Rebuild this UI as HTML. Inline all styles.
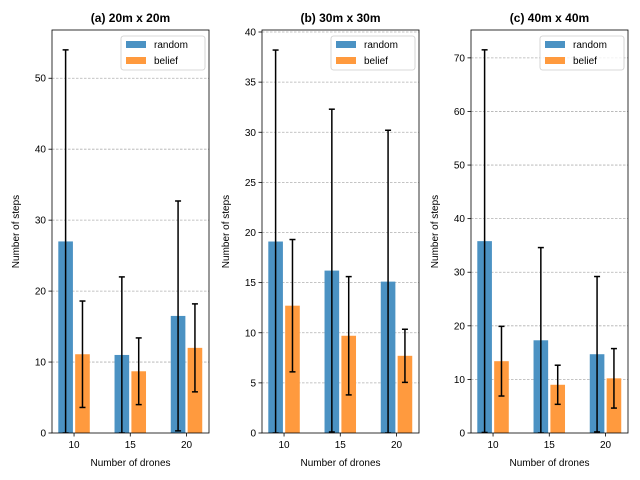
<!DOCTYPE html>
<html><head><meta charset="utf-8"><style>body{margin:0;background:#fff}svg{display:block;font-family:"Liberation Sans","DejaVu Sans",sans-serif}</style></head>
<body>
<svg id="c" width="640" height="480"></svg>
<script>
const categories=[10,15,20];
const titles=["(a) 20m x 20m","(b) 30m x 30m","(c) 40m x 40m"];
const randomVals=[[27.0,11.0,16.5],[19.1,16.2,15.1],[35.8,17.3,14.7]];
const randomErr=[[27.0,11.0,16.2],[19.1,16.1,15.1],[35.7,17.3,14.5]];
const beliefVals=[[11.1,8.7,12.0],[12.7,9.7,7.7],[13.4,9.0,10.2]];
const beliefErr=[[7.5,4.7,6.2],[6.6,5.9,2.65],[6.5,3.65,5.55]];
const yMax=[56.8,40.2,75.2];
const yTicks=[[0,10,20,30,40,50],[0,5,10,15,20,25,30,35,40],[0,10,20,30,40,50,60,70]];
const panelsX=[52,262,471];
const NS="http://www.w3.org/2000/svg";
const svg=document.getElementById('c');
function mk(tag,attrs,parent,text){const e=document.createElementNS(NS,tag);for(const k in attrs)e.setAttribute(k,attrs[k]);if(text!==undefined)e.textContent=text;(parent||svg).appendChild(e);return e;}
const TOP=30,BOT=433,W=157;
for(let p=0;p<3;p++){
  const L=panelsX[p];
  const g=mk('g',{});
  
  
  const xs=v=>L+(v-8.04)/(22.0-8.04)*W;
  const ys=v=>BOT-v/yMax[p]*(BOT-TOP);
  const cid='clip'+p;
  const cp=mk('clipPath',{id:cid},g);mk('rect',{x:L,y:TOP,width:W,height:BOT-TOP},cp);
  yTicks[p].forEach(t=>{
    const y=ys(t);
    if(t>0){const gl=mk('line',{x1:L,x2:L+W,y1:y,y2:y,stroke:'#b0b0b0','stroke-width':0.8,'stroke-dasharray':'2.5,1.5'},g);
    
    }
    mk('line',{x1:L-3.5,x2:L,y1:y,y2:y,stroke:'#000','stroke-width':0.8},g);
    const tl=mk('text',{x:L-6,y:y+3.5,'text-anchor':'end','font-size':10},g,String(t));
    
    
  });
  const bw=1.3,off=0.75;
  const series=[[randomVals[p],randomErr[p],-off,'#4b92c3','random'],[beliefVals[p],beliefErr[p],off,'#ff9a3e','belief']];
  const bg=mk('g',{'clip-path':'url(#'+cid+')'},g);
  series.forEach(s=>{
    categories.forEach((c,i)=>{
      const cx=c+s[2];
      const r=mk('rect',{x:xs(cx-bw/2),y:ys(s[0][i]),width:xs(cx+bw/2)-xs(cx-bw/2),height:ys(0)-ys(s[0][i]),fill:s[3]},bg);
      
      
      const x=xs(cx),y1=ys(s[0][i]+s[1][i]),y2=ys(s[0][i]-s[1][i]);
      const e=mk('line',{x1:x,x2:x,y1:y1,y2:y2,stroke:'#000','stroke-width':1.5},bg);
      
      
      [y1,y2].forEach(yy=>mk('line',{x1:x-3,x2:x+3,y1:yy,y2:yy,stroke:'#000','stroke-width':1.5},bg));
    });
  });
  categories.forEach(c=>{
    const x=xs(c);
    mk('line',{x1:x,x2:x,y1:BOT,y2:BOT+3.5,stroke:'#000','stroke-width':0.8},g);
    const t=mk('text',{x:x,y:BOT+15,'text-anchor':'middle','font-size':10},g,String(c));
    
    
  });
  const fr=mk('rect',{x:L,y:TOP,width:W,height:BOT-TOP,fill:'none',stroke:'#000','stroke-width':0.8},g);
  
  
  const ti=mk('text',{x:L+W/2,y:22,'text-anchor':'middle','font-size':12,'font-weight':'bold'},g,titles[p]);
  
  
  const xt=mk('text',{x:L+W/2,y:466,'text-anchor':'middle','font-size':10},g,'Number of drones');
  
  
  const yt=mk('text',{x:0,y:0,'text-anchor':'middle','font-size':10,transform:'translate('+(L-33)+','+((TOP+BOT)/2)+') rotate(-90)'},g,'Number of steps');
  
  
  const lg=mk('g',{},g);
  
  
  mk('rect',{x:L+W-88,y:TOP+6,width:84,height:34,rx:2.5,fill:'#fff','fill-opacity':0.8,stroke:'#ccc','stroke-width':0.8},lg);
  series.forEach((s,k)=>{
    const yy=TOP+11+k*16;
    const sw=mk('rect',{x:L+W-83,y:yy,width:20,height:7,fill:s[3]},lg);
    
    
    const lt=mk('text',{x:L+W-55,y:yy+7,'font-size':10},lg,s[4]);
    
    
  });
}
</script>
</body></html>
